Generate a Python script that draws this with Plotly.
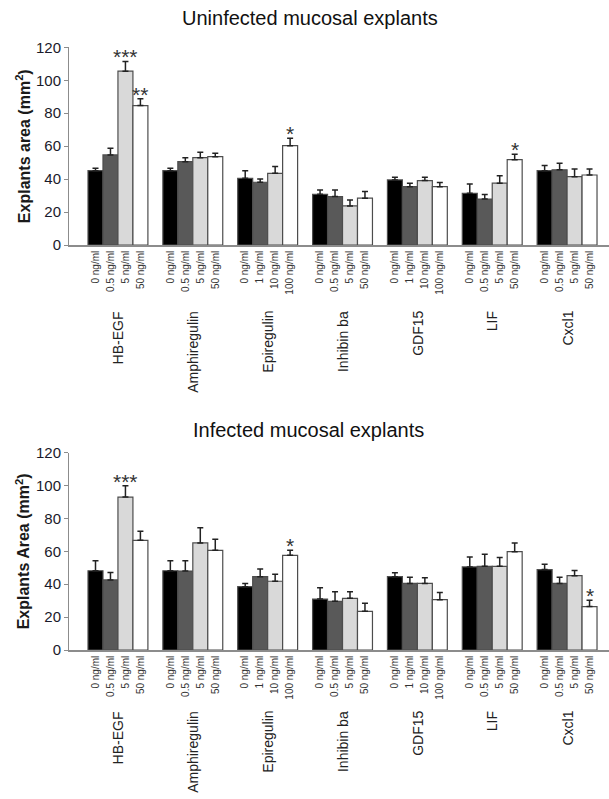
import plotly.graph_objects as go

groups = ["HB-EGF", "Amphiregulin", "Epiregulin", "Inhibin ba", "GDF15", "LIF", "Cxcl1"]
doses = [
    ["0 ng/ml", "0.5 ng/ml", "5 ng/ml", "50 ng/ml"],
    ["0 ng/ml", "0.5 ng/ml", "5 ng/ml", "50 ng/ml"],
    ["0 ng/ml", "1 ng/ml", "10 ng/ml", "100 ng/ml"],
    ["0 ng/ml", "0.5 ng/ml", "5 ng/ml", "50 ng/ml"],
    ["0 ng/ml", "1 ng/ml", "10 ng/ml", "100 ng/ml"],
    ["0 ng/ml", "0.5 ng/ml", "5 ng/ml", "50 ng/ml"],
    ["0 ng/ml", "0.5 ng/ml", "5 ng/ml", "50 ng/ml"],
]

# Uninfected: mean and error per group (4 doses each)
uninf_mean = [
    [45.1, 54.7, 105.5, 84.6],
    [45.1, 50.6, 53.0, 53.6],
    [40.5, 38.1, 43.5, 60.3],
    [30.8, 29.4, 23.7, 28.4],
    [39.5, 35.4, 39.1, 35.4],
    [31.4, 27.9, 37.5, 51.8],
    [45.1, 45.6, 41.5, 42.5],
]
uninf_err = [
    [1.5, 4.0, 5.9, 4.1],
    [1.5, 2.4, 3.3, 2.1],
    [4.6, 2.0, 4.1, 4.5],
    [2.6, 4.0, 3.6, 4.0],
    [1.6, 2.1, 2.0, 2.5],
    [5.7, 2.7, 4.6, 3.3],
    [3.1, 4.0, 4.7, 3.7],
]
uninf_sig = [
    ["", "", "***", "**"],
    ["", "", "", ""],
    ["", "", "", "*"],
    ["", "", "", ""],
    ["", "", "", ""],
    ["", "", "", "*"],
    ["", "", "", ""],
]

# Infected
inf_mean = [
    [48.2, 42.6, 93.0, 66.7],
    [48.2, 48.0, 65.1, 60.6],
    [38.5, 44.6, 41.8, 57.6],
    [31.0, 29.6, 31.4, 23.5],
    [44.6, 40.5, 40.5, 30.6],
    [50.5, 50.9, 50.9, 59.8],
    [48.9, 40.5, 45.2, 26.4],
]
inf_err = [
    [6.1, 4.6, 6.9, 5.5],
    [6.1, 6.3, 9.3, 6.7],
    [2.0, 4.7, 4.2, 3.0],
    [6.9, 5.9, 4.1, 4.9],
    [2.4, 3.7, 3.5, 4.3],
    [6.1, 7.3, 5.3, 5.3],
    [3.2, 3.7, 3.2, 3.8],
]
inf_sig = [
    ["", "", "***", ""],
    ["", "", "", ""],
    ["", "", "", "*"],
    ["", "", "", ""],
    ["", "", "", ""],
    ["", "", "", ""],
    ["", "", "", "*"],
]

bar_colors = ["#000000", "#595959", "#d9d9d9", "#ffffff"]
titles = ["Uninfected mucosal explants", "Infected mucosal explants"]
ytitles = ["Explants area (mm<sup>2</sup>)", "Explants Area (mm<sup>2</sup>)"]

FONT = "Liberation Sans, Arial, Helvetica, sans-serif"
W, H = 609, 799
ML = 69
PW = W - ML
panel_px = [(47.3, 245.0), (452.7, 650.0)]  # (top, bottom) in pixels
title_px = [(309.5, 17.5), (308.0, 430.5)]
grouplabel_top_px = [309.0, 709.0]

def py(p):
    return (H - p) / H

def px(p):
    return (p - ML) / PW

fig = go.Figure()

datasets = [(uninf_mean, uninf_err, uninf_sig), (inf_mean, inf_err, inf_sig)]
annotations = []
for k, (means, errs, sigs) in enumerate(datasets):
    xa = "x" if k == 0 else "x2"
    ya = "y" if k == 0 else "y2"
    for j in range(4):
        xs = [5 * g + j for g in range(len(groups))]
        ys = [means[g][j] for g in range(len(groups))]
        es = [errs[g][j] for g in range(len(groups))]
        fig.add_trace(go.Bar(
            x=xs, y=ys, width=1.0,
            marker=dict(color=bar_colors[j], line=dict(color="#4d4d4d", width=1.2)),
            error_y=dict(type="data", array=es, arrayminus=[0] * len(es),
                         symmetric=False, color="#222222", thickness=1.5, width=3),
            xaxis=xa, yaxis=ya, showlegend=False, hoverinfo="skip",
        ))
        for g in range(len(groups)):
            if sigs[g][j]:
                annotations.append(dict(
                    x=5 * g + j, y=means[g][j] + errs[g][j], xref=xa, yref=ya,
                    text=sigs[g][j], showarrow=False, yanchor="bottom", yshift=-9,
                    font=dict(family=FONT, size=21, color="#333333"),
                ))
    for g, name in enumerate(groups):
        annotations.append(dict(
            x=5 * g + 1.5, y=py(grouplabel_top_px[k]), xref=xa, yref="paper",
            text=name, textangle=-90, showarrow=False, yanchor="top", xanchor="center",
            font=dict(family=FONT, size=14, color="#222222"),
        ))
    annotations.append(dict(
        x=px(title_px[k][0]), y=py(title_px[k][1]), xref="paper", yref="paper",
        text=titles[k], showarrow=False, xanchor="center", yanchor="middle",
        font=dict(family=FONT, size=20, color="#111111"),
    ))
    top, bot = panel_px[k]
    annotations.append(dict(
        x=px(23), y=(py(top) + py(bot)) / 2, xref="paper", yref="paper",
        text="<b>" + ytitles[k] + "</b>", textangle=-90, showarrow=False,
        xanchor="center", yanchor="middle",
        font=dict(family=FONT, size=16, color="#1a1a1a"),
    ))

tickvals = [5 * g + j for g in range(len(groups)) for j in range(4)]
ticktext = [doses[g][j] for g in range(len(groups)) for j in range(4)]

xaxis_common = dict(
    range=[-1.77, 34.3], tickvals=tickvals, ticktext=ticktext, tickangle=-90,
    tickfont=dict(family=FONT, size=10, color="#333333"),
    showline=True, linecolor="#8c8c8c", linewidth=1.5, ticks="", showgrid=False,
    zeroline=False, automargin=False,
)
yaxis_common = dict(
    range=[0, 120], tickvals=[0, 20, 40, 60, 80, 100, 120],
    tickfont=dict(family=FONT, size=15, color="#1a1a2a"),
    showline=True, linecolor="#8c8c8c", linewidth=1, ticks="outside", ticklen=4,
    tickcolor="#8c8c8c", showgrid=False, zeroline=False, automargin=False,
)

fig.update_layout(
    width=W, height=H,
    margin=dict(l=ML, r=0, t=0, b=0, autoexpand=False),
    paper_bgcolor="white", plot_bgcolor="white",
    barmode="overlay",
    xaxis=dict(**xaxis_common, anchor="y"),
    yaxis=dict(**yaxis_common, domain=[py(panel_px[0][1]), py(panel_px[0][0])], anchor="x"),
    xaxis2=dict(**xaxis_common, anchor="y2"),
    yaxis2=dict(**yaxis_common, domain=[py(panel_px[1][1]), py(panel_px[1][0])], anchor="x2"),
    annotations=annotations,
    font=dict(family=FONT),
    hovermode=False,
)

fig.write_html(
    "out.html",
    config={"displayModeBar": False},
    post_script="document.body.style.margin='0';document.body.style.overflow='hidden';",
)
